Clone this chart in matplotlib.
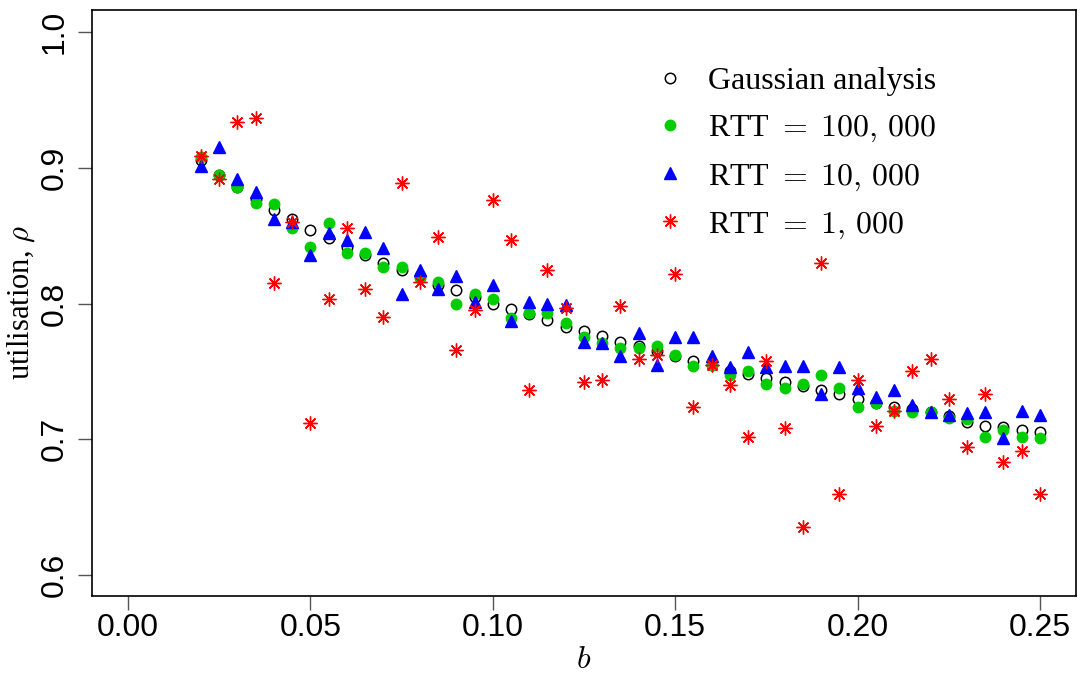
import numpy as np
import matplotlib
matplotlib.use('Agg')
import matplotlib.pyplot as plt

plt.rcParams['mathtext.fontset'] = 'cm'

# b values
b = np.arange(0.02, 0.2501, 0.005)

gauss = [0.906, 0.895, 0.886, 0.877, 0.869, 0.862, 0.854, 0.848, 0.842, 0.836,
         0.830, 0.825, 0.820, 0.814, 0.810, 0.805, 0.800, 0.796, 0.792, 0.788,
         0.783, 0.780, 0.776, 0.772, 0.769, 0.765, 0.761, 0.758, 0.755, 0.750,
         0.748, 0.745, 0.742, 0.739, 0.736, 0.733, 0.730, 0.727, 0.724, 0.722,
         0.720, 0.717, 0.713, 0.710, 0.709, 0.707, 0.705]

rtt_100k = [0.908, 0.895, 0.886, 0.874, 0.873, 0.856, 0.842, 0.859, 0.837, 0.837,
            0.827, 0.827, 0.819, 0.816, 0.800, 0.807, 0.803, 0.789, 0.793, 0.793,
            0.786, 0.775, 0.771, 0.767, 0.767, 0.769, 0.762, 0.754, 0.755, 0.747,
            0.750, 0.741, 0.738, 0.741, 0.747, 0.738, 0.724, 0.727, 0.721, 0.720,
            0.720, 0.716, 0.715, 0.702, 0.707, 0.702, 0.701]

rtt_10k = [0.901, 0.915, 0.892, 0.882, 0.862, 0.860, 0.836, 0.852, 0.847, 0.853,
           0.841, 0.807, 0.825, 0.811, 0.820, 0.801, 0.814, 0.787, 0.801, 0.800,
           0.799, 0.772, 0.771, 0.761, 0.778, 0.755, 0.775, 0.775, 0.761, 0.753,
           0.764, 0.753, 0.754, 0.754, 0.733, 0.753, 0.738, 0.731, 0.736, 0.725,
           0.720, 0.718, 0.719, 0.720, 0.701, 0.721, 0.718]

rtt_1k = [0.909, 0.892, 0.934, 0.937, 0.815, 0.860, 0.712, 0.803, 0.856, 0.811,
          0.790, 0.889, 0.816, 0.849, 0.766, 0.795, 0.876, 0.847, 0.736, 0.825,
          0.797, 0.742, 0.744, 0.798, 0.759, 0.762, 0.822, 0.724, 0.755, 0.740,
          0.702, 0.758, 0.708, 0.635, 0.830, 0.660, 0.744, 0.710, 0.721, 0.750,
          0.759, 0.730, 0.694, 0.733, 0.683, 0.691, 0.660]

fig = plt.figure(figsize=(10.82, 6.77), dpi=100)
ax = fig.add_axes([0.085, 0.1196, 0.9095, 0.8654])

ax.plot(b, gauss, 'o', ls='none', mfc='none', mec='black', mew=1.1, ms=7.5,
        label='Gaussian analysis')
ax.plot(b, rtt_100k, 'o', ls='none', color='#00CD00', ms=7.5,
        label=r'RTT $=\;100,\,000$')
ax.plot(b, rtt_10k, '^', ls='none', color='#0000FF', ms=8,
        label=r'RTT $=\;10,\,000$')
ax.plot(b, rtt_1k, marker=(8, 2, 0), ls='none', color='#FF0000', ms=10, mew=1.0,
        label=r'RTT $=\;1,\,000$')

ax.set_xlim(-0.00987, 0.2599)
ax.set_ylim(0.5845, 1.0162)
ax.set_xticks([0.0, 0.05, 0.10, 0.15, 0.20, 0.25])
ax.set_xticklabels(['0.00', '0.05', '0.10', '0.15', '0.20', '0.25'],
                   family='Liberation Sans', fontsize=23)
ax.set_yticks([0.6, 0.7, 0.8, 0.9, 1.0])
ax.set_yticklabels(['0.6', '0.7', '0.8', '0.9', '1.0'],
                   family='Liberation Sans', fontsize=23, rotation=90, va='center')
ax.tick_params(axis='both', direction='out', length=10, width=1, color='#555555')
ax.tick_params(axis='x', pad=2)
ax.tick_params(axis='y', pad=6)
for s in ax.spines.values():
    s.set_linewidth(1.2)

ax.set_xlabel(r'$b$', fontsize=23, labelpad=1)
ax.set_ylabel(r'utilisation, $\rho$', family='Liberation Serif', fontsize=22, labelpad=2)

leg = ax.legend(loc='upper left', bbox_to_anchor=(0.555, 0.925), frameon=False,
                prop={'family': 'Liberation Serif', 'size': 23},
                handletextpad=0.6, labelspacing=0.55, handlelength=1.2,
                borderaxespad=0)

plt.savefig('out.png', dpi=100)
